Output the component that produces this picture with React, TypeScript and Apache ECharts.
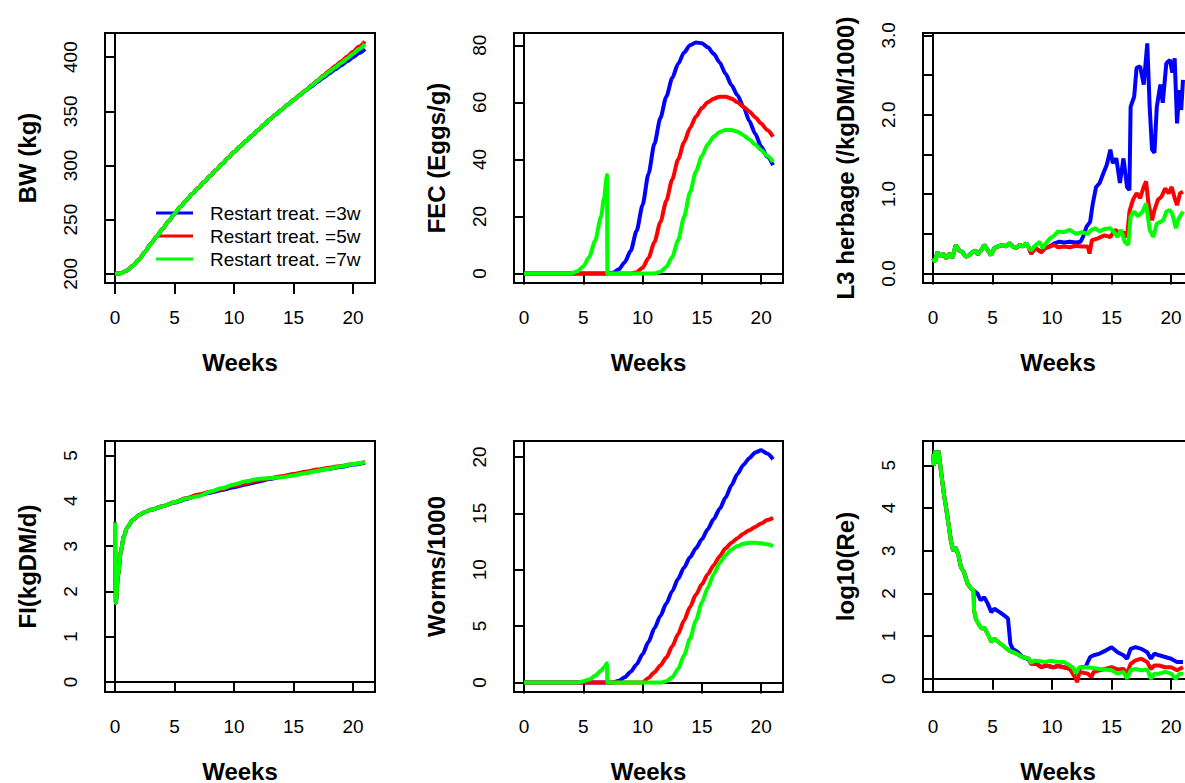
import React, { useEffect, useRef } from "react";
import * as echarts from "echarts";

// ---------- labels ----------
const SERIES_NAMES = ["Restart treat. =3w", "Restart treat. =5w", "Restart treat. =7w"];
const X_TICKS = [0, 5, 10, 15, 20];
const X_TITLE = "Weeks";

// ---------- common week grid (0.5 week) ----------
const HALF_WEEKS = [0, 0.5, 1, 1.5, 2, 2.5, 3, 3.5, 4, 4.5, 5, 5.5, 6, 6.5, 7, 7.5, 8, 8.5, 9, 9.5, 10, 10.5, 11, 11.5, 12, 12.5, 13, 13.5, 14, 14.5, 15, 15.5, 16, 16.5, 17, 17.5, 18, 18.5, 19, 19.5, 20, 20.5, 21];

// ---------- BW (kg) ----------
const BW_TICKS = [200, 250, 300, 350, 400];
const bwBlue = [200, 200.5, 203, 207.5, 213, 220, 227.5, 234.5, 241.5, 248.5, 255.5, 262, 268, 274, 279.5, 285, 290.5, 296, 301.5, 307, 312.5, 317.5, 322.5, 327.5, 332.5, 337.5, 342.5, 347, 351.5, 356, 360.5, 364.8, 369, 373, 377, 381, 385, 388.8, 392.5, 396.3, 400, 403.8, 407.5];
const bwRed = [200, 200.5, 203, 207.5, 213, 220, 227.5, 234.5, 241.5, 248.5, 255.5, 262, 268, 274, 279.5, 285, 290.5, 296, 301.5, 307, 312.5, 317.5, 322.5, 327.5, 332.5, 337.5, 342.5, 347, 351.5, 356, 360.5, 365, 369.5, 374, 378.5, 383, 387.5, 391.8, 396, 400.5, 405, 409.8, 414.5];
const bwGreen = [200, 200.5, 203, 207.5, 213, 220, 227.5, 234.5, 241.5, 248.5, 255.5, 262, 268, 274, 279.5, 285, 290.5, 296, 301.5, 307, 312.5, 317.5, 322.5, 327.5, 332.5, 337.5, 342.5, 347, 351.5, 356, 360.5, 364.9, 369.3, 373.6, 378, 382.3, 386.5, 390.5, 394.5, 398.8, 403, 407.5, 412];

// ---------- FEC (Eggs/g) ----------
const FEC_TICKS = [0, 20, 40, 60, 80];
const fecBlue = [0, 0, 0, 0, 0, 0, 0, 0, 0, 0, 0, 0, 0, 0, 0, 0.3, 1.5, 4, 8, 15, 24, 35, 45.5, 54.5, 62, 68.5, 73.5, 77.5, 80, 81, 80.7, 79.3, 77, 74, 70, 66, 62.5, 58.5, 53.5, 49, 44.5, 41, 38];
const fecRed = [0, 0, 0, 0, 0, 0, 0, 0, 0, 0, 0, 0, 0, 0, 0, 0, 0, 0, 0, 0.5, 2, 5.5, 11, 18, 25.5, 33, 40, 46, 51, 55, 58, 60, 61.3, 62, 62, 61.3, 60, 58.5, 56.8, 54.8, 52.6, 50.3, 48];
const fecGreenWeeks = [0, 0.5, 1, 1.5, 2, 2.5, 3, 3.5, 4, 4.5, 5, 5.5, 6, 6.5, 6.75, 7, 7.03, 7.5, 8, 8.5, 9, 9.5, 10, 10.5, 11, 11.5, 12, 12.5, 13, 13.5, 14, 14.5, 15, 15.5, 16, 16.5, 17, 17.5, 18, 18.5, 19, 19.5, 20, 20.5, 21];
const fecGreen = [0, 0, 0, 0, 0, 0, 0, 0, 0.1, 0.8, 2.5, 5.8, 11.5, 20, 26.5, 34.5, 0, 0, 0, 0, 0, 0, 0, 0, 0, 0.6, 2.3, 5.8, 11.7, 19.9, 28.5, 35.8, 41.2, 45.3, 48, 49.6, 50.3, 50.3, 49.7, 48.5, 47, 45.2, 43.3, 41.3, 39.2];

// ---------- L3 herbage (/kgDM/1000) ----------
const L3_TICKS = [0, 0.5, 1, 1.5, 2, 2.5, 3];
const L3_LABELS = [0, 1, 2, 3];
const l3CommonWeeks = [0, 0.17, 0.37, 0.65, 0.85, 1.13, 1.35, 1.63, 1.92, 2.2, 2.48, 2.76, 3.04, 3.32, 3.6, 3.75, 4.03, 4.31, 4.6, 4.87, 5.15, 5.44, 5.86, 6.14, 6.42, 6.7, 6.99, 7.27, 7.55, 7.83, 8.06];
const l3Common = [0.19, 0.15, 0.27, 0.21, 0.25, 0.19, 0.25, 0.2, 0.36, 0.29, 0.27, 0.21, 0.23, 0.27, 0.29, 0.24, 0.29, 0.36, 0.29, 0.23, 0.32, 0.34, 0.36, 0.34, 0.38, 0.34, 0.32, 0.36, 0.34, 0.38, 0.32];
const l3BlueWeeks = [8.25, 8.6, 9.1, 9.4, 9.8, 10.2, 10.6, 11, 11.5, 12, 12.4, 12.6, 12.9, 13.2, 13.4, 13.7, 14, 14.3, 14.6, 14.9, 15.1, 15.4, 15.7, 16, 16.3, 16.5, 16.6, 16.9, 17.1, 17.4, 17.7, 18, 18.2, 18.4, 18.6, 18.8, 19.1, 19.3, 19.6, 19.9, 20.1, 20.3, 20.5, 20.7, 20.85, 21];
const l3Blue = [0.25, 0.32, 0.27, 0.32, 0.34, 0.38, 0.4, 0.39, 0.4, 0.39, 0.4, 0.46, 0.59, 0.65, 0.86, 1.09, 1.14, 1.26, 1.37, 1.56, 1.39, 1.45, 1.14, 1.45, 1.09, 1.05, 2.1, 2.23, 2.59, 2.61, 2.38, 2.9, 2.1, 1.56, 1.52, 2.1, 2.38, 2.15, 2.65, 2.69, 2.53, 2.71, 1.89, 2.31, 2.06, 2.44];
const l3RedWeeks = [8.25, 8.6, 9.1, 9.4, 9.8, 10.2, 10.5, 11, 11.5, 12, 12.5, 13, 13.15, 13.35, 13.8, 14.4, 14.9, 15.3, 15.7, 16, 16.3, 16.5, 16.8, 17.1, 17.4, 17.7, 17.9, 18.1, 18.4, 18.6, 18.9, 19.2, 19.5, 19.8, 20.05, 20.3, 20.5, 20.75, 21];
const l3Red = [0.25, 0.32, 0.27, 0.32, 0.34, 0.36, 0.33, 0.34, 0.33, 0.35, 0.34, 0.34, 0.25, 0.42, 0.44, 0.48, 0.46, 0.55, 0.5, 0.52, 0.46, 0.78, 0.93, 1.01, 0.95, 1.09, 1.16, 0.88, 0.67, 0.8, 0.93, 0.97, 1.07, 1.01, 1.09, 0.95, 0.86, 1.01, 1.03];
const l3GreenWeeks = [8.25, 8.5, 8.96, 9.2, 9.5, 9.8, 10.2, 10.5, 11, 11.5, 12, 12.5, 13, 13.3, 13.6, 14, 14.4, 14.9, 15.2, 15.5, 15.8, 16.1, 16.4, 16.6, 16.9, 17.2, 17.6, 17.9, 18.2, 18.5, 18.8, 19.1, 19.35, 19.6, 19.9, 20.1, 20.4, 20.6, 21];
const l3Green = [0.29, 0.34, 0.4, 0.32, 0.38, 0.44, 0.48, 0.53, 0.52, 0.55, 0.5, 0.52, 0.5, 0.55, 0.57, 0.53, 0.56, 0.57, 0.52, 0.46, 0.55, 0.4, 0.36, 0.72, 0.78, 0.72, 0.78, 0.88, 0.55, 0.46, 0.63, 0.65, 0.67, 0.78, 0.8, 0.75, 0.57, 0.68, 0.78];

// ---------- FI (kgDM/d) ----------
const FI_TICKS = [0, 1, 2, 3, 4, 5];
const fiWeeks = [0, 0.07, 0.25, 0.5, 0.75, 1, 1.5, 2, 2.5, 3, 4, 5, 6, 7, 8, 9, 10, 11, 12, 13, 14, 15, 16, 17, 18, 19, 20, 21];
const fiBlue = [3.52, 1.75, 2.35, 2.9, 3.22, 3.4, 3.58, 3.68, 3.75, 3.8, 3.88, 3.96, 4.04, 4.12, 4.18, 4.24, 4.3, 4.36, 4.42, 4.48, 4.53, 4.58, 4.62, 4.67, 4.71, 4.75, 4.8, 4.84];
const fiRed = [3.52, 1.75, 2.35, 2.9, 3.22, 3.4, 3.58, 3.68, 3.75, 3.8, 3.88, 3.97, 4.06, 4.14, 4.2, 4.26, 4.33, 4.39, 4.45, 4.5, 4.54, 4.59, 4.64, 4.69, 4.73, 4.77, 4.81, 4.85];
const fiGreen = [3.52, 1.75, 2.35, 2.9, 3.22, 3.4, 3.58, 3.68, 3.75, 3.8, 3.88, 3.97, 4.05, 4.1, 4.2, 4.28, 4.36, 4.43, 4.48, 4.5, 4.52, 4.56, 4.61, 4.66, 4.71, 4.76, 4.81, 4.85];

// ---------- Worms/1000 ----------
const WORM_TICKS = [0, 5, 10, 15, 20];
const wormBlue = [0, 0, 0, 0, 0, 0, 0, 0, 0, 0, 0, 0, 0, 0, 0, 0, 0.15, 0.45, 0.95, 1.6, 2.5, 3.6, 4.8, 5.9, 7, 8.1, 9.2, 10.2, 11.1, 11.9, 12.7, 13.6, 14.5, 15.4, 16.4, 17.5, 18.5, 19.3, 19.9, 20.4, 20.6, 20.3, 19.8];
const wormRed = [0, 0, 0, 0, 0, 0, 0, 0, 0, 0, 0, 0, 0, 0, 0, 0, 0, 0, 0, 0, 0, 0.4, 0.9, 1.5, 2.2, 3.2, 4.3, 5.5, 6.7, 7.8, 8.7, 9.6, 10.4, 11.2, 11.9, 12.4, 12.8, 13.2, 13.5, 13.8, 14.1, 14.4, 14.6];
const wormGreenWeeks = [0, 0.5, 1, 1.5, 2, 2.5, 3, 3.5, 4, 4.5, 5, 5.5, 6, 6.5, 6.75, 7, 7.03, 7.5, 8, 8.5, 9, 9.5, 10, 10.5, 11, 11.5, 12, 12.5, 13, 13.5, 14, 14.5, 15, 15.5, 16, 16.5, 17, 17.5, 18, 18.5, 19, 19.5, 20, 20.5, 21];
const wormGreen = [0, 0, 0, 0, 0, 0, 0, 0, 0, 0, 0.1, 0.25, 0.6, 1.05, 1.35, 1.7, 0, 0, 0, 0, 0, 0, 0, 0, 0, 0, 0.1, 0.45, 1.2, 2.4, 3.9, 5.5, 7.1, 8.4, 9.6, 10.6, 11.3, 11.8, 12.1, 12.3, 12.4, 12.4, 12.35, 12.25, 12.1];

// ---------- log10(Re) ----------
const RE_TICKS = [0, 1, 2, 3, 4, 5];
const reCommonWeeks = [0, 0.08, 0.2, 0.33, 0.45, 0.56, 0.73, 0.93, 1.07, 1.3, 1.5, 1.7, 1.9, 2.14, 2.34, 2.6, 2.9, 3.2, 3.4];
const reCommon = [5.27, 5.0, 5.35, 5.05, 5.35, 5.12, 4.73, 4.3, 4.06, 3.63, 3.24, 3.0, 3.08, 2.89, 2.62, 2.5, 2.23, 2.11, 2.07];
const reMidWeeks = [3.45, 3.6, 3.9, 4.1, 4.3, 4.6, 4.9, 5.15, 5.5, 5.86, 6.4, 7.0, 7.5, 8.05];
const reMid = [1.6, 1.4, 1.25, 1.17, 1.2, 1.05, 0.86, 0.94, 0.86, 0.78, 0.66, 0.59, 0.51, 0.47];
const reBlueWeeks = [3.75, 4.0, 4.3, 4.6, 4.9, 5.15, 5.6, 6.0, 6.3, 6.5, 6.7, 7.1, 7.5, 8.05, 8.25, 8.7, 9.1, 9.5, 10.1, 10.5, 11, 11.5, 12, 12.4, 12.8, 13.2, 13.5, 14, 14.5, 15, 15.5, 16, 16.3, 16.6, 17, 17.5, 18, 18.3, 18.6, 19, 19.5, 20, 20.5, 21];
const reBlue = [1.99, 1.84, 1.91, 1.76, 1.56, 1.64, 1.56, 1.48, 1.41, 0.82, 0.7, 0.63, 0.52, 0.45, 0.35, 0.35, 0.27, 0.31, 0.27, 0.3, 0.27, 0.23, 0.12, 0.27, 0.27, 0.51, 0.55, 0.59, 0.66, 0.74, 0.62, 0.55, 0.47, 0.7, 0.74, 0.7, 0.62, 0.47, 0.59, 0.55, 0.51, 0.47, 0.39, 0.39];
const reRedWeeks = [8.25, 8.7, 9.1, 9.5, 10.1, 10.5, 11, 11.5, 12, 12.1, 12.3, 13, 13.3, 13.5, 14, 15, 15.5, 16, 16.3, 16.6, 17, 17.5, 18, 18.3, 18.6, 19, 19.5, 20, 20.5, 21];
const reRed = [0.35, 0.35, 0.27, 0.31, 0.27, 0.3, 0.27, 0.23, 0.0, -0.08, 0.16, 0.12, 0.04, 0.16, 0.2, 0.27, 0.22, 0.23, 0.12, 0.35, 0.43, 0.47, 0.39, 0.23, 0.31, 0.31, 0.27, 0.27, 0.2, 0.27];
const reGreenWeeks = [8.25, 8.5, 9.0, 9.4, 9.8, 10.4, 11, 11.5, 11.8, 12.0, 12.3, 13, 14, 15, 15.5, 16, 16.3, 16.6, 17, 17.5, 18, 18.3, 18.6, 19, 19.5, 20, 20.4, 20.7, 21];
const reGreen = [0.37, 0.43, 0.41, 0.39, 0.42, 0.4, 0.39, 0.31, 0.25, 0.12, 0.27, 0.27, 0.23, 0.2, 0.12, 0.16, 0.0, 0.2, 0.23, 0.2, 0.22, 0.0, 0.12, 0.12, 0.16, 0.12, 0.0, 0.12, 0.12];

// ---------- styling / layout (kept apart from data) ----------
const COLORS = ["#0000FF", "#FF0000", "#00FF00"];
const FONT = "'Liberation Sans', Arial, Helvetica, sans-serif";
const GRIDS = [
  { left: 105, top: 33, width: 270, height: 250 },
  { left: 514, top: 33, width: 269, height: 250 },
  { left: 923, top: 33, width: 270, height: 250 },
  { left: 105, top: 441, width: 270, height: 251 },
  { left: 514, top: 441, width: 269, height: 251 },
  { left: 923, top: 441, width: 270, height: 251 },
];

const zip = (xs: number[], ys: number[]) => xs.map((x, i) => [x, ys[i]]);

type Panel = {
  title: string;
  yMin: number;
  yMax: number;
  ticks: number[];
  labels: number[];
  digits: number;
  smooth: boolean;
  lines: number[][][];
};

const PANELS: Panel[] = [
  {
    title: "BW (kg)", yMin: 191.5, yMax: 422.3, ticks: BW_TICKS, labels: BW_TICKS, digits: 0, smooth: true,
    lines: [zip(HALF_WEEKS, bwBlue), zip(HALF_WEEKS, bwRed), zip(HALF_WEEKS, bwGreen)],
  },
  {
    title: "FEC (Eggs/g)", yMin: -3.3, yMax: 84.3, ticks: FEC_TICKS, labels: FEC_TICKS, digits: 0, smooth: true,
    lines: [zip(HALF_WEEKS, fecBlue), zip(HALF_WEEKS, fecRed), zip(fecGreenWeeks, fecGreen)],
  },
  {
    title: "L3 herbage (/kgDM/1000)", yMin: -0.12, yMax: 3.03, ticks: L3_TICKS, labels: L3_LABELS, digits: 1, smooth: false,
    lines: [
      zip(l3CommonWeeks.concat(l3BlueWeeks), l3Common.concat(l3Blue)),
      zip(l3CommonWeeks.concat(l3RedWeeks), l3Common.concat(l3Red)),
      zip(l3CommonWeeks.concat(l3GreenWeeks), l3Common.concat(l3Green)),
    ],
  },
  {
    title: "FI(kgDM/d)", yMin: -0.22, yMax: 5.32, ticks: FI_TICKS, labels: FI_TICKS, digits: 0, smooth: true,
    lines: [zip(fiWeeks, fiBlue), zip(fiWeeks, fiRed), zip(fiWeeks, fiGreen)],
  },
  {
    title: "Worms/1000", yMin: -0.85, yMax: 21.42, ticks: WORM_TICKS, labels: WORM_TICKS, digits: 0, smooth: true,
    lines: [zip(HALF_WEEKS, wormBlue), zip(HALF_WEEKS, wormRed), zip(wormGreenWeeks, wormGreen)],
  },
  {
    title: "log10(Re)", yMin: -0.31, yMax: 5.57, ticks: RE_TICKS, labels: RE_TICKS, digits: 0, smooth: false,
    lines: [
      zip(reCommonWeeks.concat(reBlueWeeks), reCommon.concat(reBlue)),
      zip(reCommonWeeks.concat(reMidWeeks, reRedWeeks), reCommon.concat(reMid, reRed)),
      zip(reCommonWeeks.concat(reMidWeeks, reGreenWeeks), reCommon.concat(reMid, reGreen)),
    ],
  },
];

function buildOption() {
  const tickStyle = { color: "#000", width: 2 };
  const xAxis = PANELS.map((_, i) => ({
    type: "value",
    gridIndex: i,
    min: -0.84,
    max: 21.84,
    axisLine: { show: true, lineStyle: tickStyle },
    axisTick: { show: true, inside: false, length: 11, customValues: X_TICKS, lineStyle: tickStyle },
    axisLabel: { customValues: X_TICKS, margin: 25, fontSize: 19, color: "#000", fontFamily: FONT },
    splitLine: { show: false },
    name: X_TITLE,
    nameLocation: "middle",
    nameGap: 67,
    nameTextStyle: { fontSize: 24, fontWeight: "bold", color: "#000", fontFamily: FONT },
  }));
  const yAxis = PANELS.map((p, i) => ({
    type: "value",
    gridIndex: i,
    min: p.yMin,
    max: p.yMax,
    axisLine: { show: true, lineStyle: tickStyle },
    axisTick: { show: true, inside: false, length: 11, customValues: p.ticks, lineStyle: tickStyle },
    axisLabel: {
      customValues: p.labels,
      rotate: 90,
      margin: 25,
      fontSize: 19,
      color: "#000",
      fontFamily: FONT,
      formatter: (v: number) => Number(v).toFixed(p.digits),
    },
    splitLine: { show: false },
    name: p.title,
    nameLocation: "middle",
    nameGap: 66,
    nameTextStyle: { fontSize: 24, fontWeight: "bold", color: "#000", fontFamily: FONT },
  }));
  const series: any[] = [];
  PANELS.forEach((p, i) => {
    p.lines.forEach((data, k) => {
      series.push({
        type: "line",
        name: SERIES_NAMES[k],
        xAxisIndex: i,
        yAxisIndex: i,
        data,
        showSymbol: false,
        symbol: "none",
        smooth: p.smooth ? 0.25 : false,
        smoothMonotone: "x",
        lineStyle: { color: COLORS[k], width: 4 },
        itemStyle: { color: COLORS[k] },
        z: 2 + k,
        clip: true,
      });
    });
  });
  return {
    animation: false,
    backgroundColor: "#fff",
    grid: GRIDS.map((g) => ({
      ...g,
      show: true,
      borderColor: "#000",
      borderWidth: 2,
      backgroundColor: "transparent",
      containLabel: false,
      outerBoundsMode: "none",
    })),
    xAxis,
    yAxis,
    legend: {
      data: SERIES_NAMES,
      orient: "vertical",
      left: 151,
      top: 198,
      padding: 5,
      itemWidth: 37,
      itemHeight: 3,
      itemGap: 3,
      icon: "rect",
      selectedMode: false,
      textStyle: { fontSize: 19, color: "#000", fontFamily: FONT, lineHeight: 20, padding: [0, 0, 0, 12] },
    },
    series,
  };
}

export default function App() {
  const ref = useRef<HTMLDivElement>(null);
  useEffect(() => {
    if (!ref.current) return;
    const chart = echarts.init(ref.current, null, { renderer: "svg" });
    chart.setOption(buildOption() as any);
    return () => chart.dispose();
  }, []);
  return (
    <div
      ref={ref}
      style={{ position: "absolute", left: 0, top: 0, width: 1185, height: 783, background: "#fff" }}
    />
  );
}
